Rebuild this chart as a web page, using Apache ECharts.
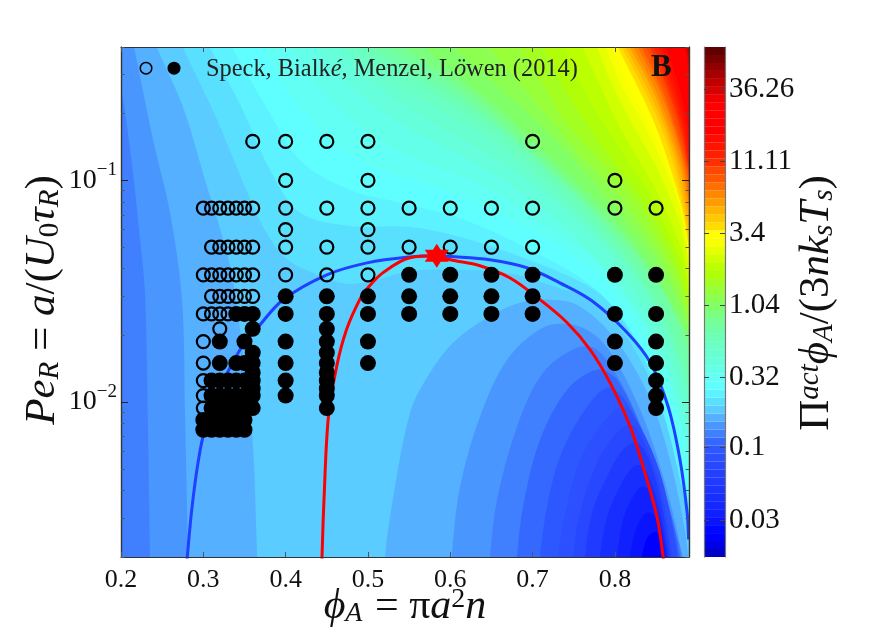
<!DOCTYPE html>
<html>
<head>
<meta charset="utf-8">
<script src="https://cdn.jsdelivr.net/npm/echarts@6/dist/echarts.min.js"></script>
<style>
  html, body { margin: 0; background: #fff; }
  #chart { width: 872px; height: 634px; }
</style>
</head>
<body>
<div id="chart"></div>
<script>
// axis ticks
const phiTicks = [0.2, 0.3, 0.4, 0.5, 0.6, 0.7, 0.8]
const peMajorTicks = [0.01, 0.1]
const peMinorTicks = [0.002, 0.003, 0.004, 0.005, 0.006, 0.007, 0.008, 0.009,
  0.02, 0.03, 0.04, 0.05, 0.06, 0.07, 0.08, 0.09, 0.2, 0.3, 0.4]
const barTicks = [0.03, 0.1, 0.32, 1.04, 3.4, 11.11, 36.26]

// colour levels of the bar, bottom to top
const barColors = ['#0000c8', '#0000e6', '#0000ff', '#0008ff', '#0a14ff', '#1020ff', '#1428ff', '#182eff',
  '#1c34ff', '#203aff', '#2440ff', '#2848ff', '#2c50ff', '#2e58ff', '#3568ff', '#4080ff',
  '#4a96ff', '#55b0ff', '#5accff', '#5ae0ff', '#5cf2ff', '#60ffff', '#62fff4', '#64ffe8',
  '#66ffdc', '#68ffd0', '#6affc4', '#6cffb8', '#70ffa8', '#74ff98', '#7aff80', '#80ff66',
  '#8cff50', '#98ff38', '#a4ff20', '#b0ff08', '#bcff00', '#d0ff00', '#e8ff00', '#f8ff00',
  '#ffff00', '#ffdc00', '#ffc800', '#ffb400', '#ff9c00', '#ff8800', '#ff7000', '#ff5800',
  '#ff4800', '#ff3000', '#ff2000', '#ff1400', '#ff0c00', '#ff0000', '#ff0000', '#ff0000',
  '#ff0000', '#f00000', '#d80000', '#c00000', '#a80000', '#900000', '#780000', '#600000']

// contours, as [phi, log10(Pe)]
// lower levels on the left side
const leftLevels = [17, 16, 15]
const leftContours = [
  [[0.235, -0.3], [0.2437, -0.4], [0.2753, -0.669], [0.3057, -1.043], [0.3179, -1.187], [0.3276, -1.313], [0.3349, -1.426], [0.3446, -1.673], [0.3592, -2.137], [0.3653, -2.696], [0.366, -2.85]],
  [[0.208, -0.3], [0.2158, -0.4], [0.2389, -0.818], [0.2596, -1.146], [0.2741, -1.538], [0.2778, -2.065], [0.2814, -2.696], [0.282, -2.85]],
  [[0.19, -0.5], [0.199, -0.561], [0.2146, -0.966], [0.2231, -1.268], [0.2292, -1.507], [0.2328, -2.137], [0.2352, -2.696], [0.236, -2.85]]
]
// domes of low values at the bottom right
const domeLevels = [17, 16, 15, 14, 13, 12, 11, 9, 7, 5, 4, 2]
const domeContours = [
  [[0.519, -2.85], [0.5208, -2.696], [0.5269, -2.516], [0.5512, -2.047], [0.5755, -1.867], [0.6034, -1.732], [0.6447, -1.619], [0.6848, -1.552], [0.7212, -1.538], [0.754, -1.561], [0.7941, -1.687], [0.8269, -1.867], [0.8512, -2.065], [0.8707, -2.318], [0.8853, -2.588], [0.8889, -2.696], [0.892, -2.85]],
  [[0.6, -2.85], [0.6018, -2.696], [0.6119, -2.381], [0.6362, -2.065], [0.669, -1.809], [0.7127, -1.664], [0.7492, -1.651], [0.7783, -1.705], [0.8026, -1.822], [0.8342, -2.065], [0.8585, -2.336], [0.8792, -2.651], [0.882, -2.85]],
  [[0.646, -2.85], [0.6483, -2.696], [0.6568, -2.44], [0.6811, -2.11], [0.7127, -1.867], [0.754, -1.755], [0.7783, -1.764], [0.8099, -1.93], [0.8427, -2.214], [0.867, -2.498], [0.8816, -2.696], [0.885, -2.85]],
  [[0.679, -2.85], [0.6811, -2.696], [0.6884, -2.471], [0.7091, -2.169], [0.7419, -1.944], [0.7783, -1.854], [0.8026, -1.899], [0.8342, -2.137], [0.8634, -2.439], [0.8792, -2.696], [0.882, -2.85]],
  [[0.707, -2.85], [0.7091, -2.696], [0.7176, -2.471], [0.7334, -2.246], [0.7613, -2.047], [0.7905, -1.935], [0.8148, -2.002], [0.8427, -2.246], [0.867, -2.516], [0.8767, -2.696], [0.879, -2.85]],
  [[0.729, -2.85], [0.731, -2.696], [0.7395, -2.498], [0.7577, -2.26], [0.782, -2.11], [0.8099, -2.02], [0.8306, -2.11], [0.8549, -2.318], [0.8707, -2.574], [0.8755, -2.696], [0.878, -2.85]],
  [[0.747, -2.85], [0.7492, -2.696], [0.7577, -2.498], [0.7783, -2.273], [0.7978, -2.156], [0.8185, -2.101], [0.8342, -2.169], [0.8549, -2.381], [0.8695, -2.696], [0.872, -2.85]],
  [[0.762, -2.85], [0.7638, -2.696], [0.7723, -2.498], [0.7905, -2.336], [0.8099, -2.214], [0.8269, -2.182], [0.8427, -2.273], [0.8573, -2.471], [0.867, -2.696], [0.869, -2.85]],
  [[0.78, -2.85], [0.782, -2.696], [0.7905, -2.516], [0.8063, -2.381], [0.8221, -2.291], [0.8342, -2.291], [0.8512, -2.44], [0.8646, -2.696], [0.867, -2.85]],
  [[0.8, -2.85], [0.8026, -2.696], [0.8099, -2.53], [0.8221, -2.426], [0.8342, -2.381], [0.8464, -2.426], [0.8634, -2.696], [0.866, -2.85]],
  [[0.816, -2.85], [0.8185, -2.696], [0.8269, -2.56], [0.8391, -2.498], [0.8512, -2.53], [0.8609, -2.696], [0.863, -2.85]],
  [[0.831, -2.85], [0.833, -2.696], [0.8403, -2.606], [0.8512, -2.588], [0.8585, -2.696], [0.861, -2.85]]
]
// higher levels towards the top right
const upperLevels = [19, 20, 21, 22, 23, 24, 25, 26, 27, 28, 29, 30, 31, 32, 33, 34, 35, 36, 37, 38, 39, 40,
  41, 42, 43, 44, 45, 46, 47, 48, 49, 50, 51, 52, 53, 57, 58, 59, 60]
const upperContours = [
  [[0.265, -0.3], [0.2753, -0.4], [0.3142, -0.705], [0.3446, -0.975], [0.3713, -1.2], [0.3993, -1.349], [0.4333, -1.417], [0.4722, -1.465], [0.5025, -1.455], [0.5512, -1.41], [0.6, -1.403], [0.6727, -1.42], [0.7334, -1.488], [0.7699, -1.538], [0.8145, -1.71], [0.8452, -1.921], [0.8672, -2.146], [0.8819, -2.349], [0.8914, -2.574], [0.9, -2.8]],
  [[0.295, -0.3], [0.308, -0.4], [0.345, -0.66], [0.381, -0.953], [0.4175, -1.146], [0.478, -1.205], [0.551, -1.209], [0.612, -1.255], [0.673, -1.327], [0.7455, -1.435], [0.79, -1.538], [0.8306, -1.764], [0.861, -2.079], [0.879, -2.349], [0.891, -2.552], [0.9, -2.8]],
  [[0.32, -0.3], [0.335, -0.4], [0.375, -0.66], [0.4175, -0.908], [0.478, -1.043], [0.551, -1.11], [0.624, -1.187], [0.697, -1.313], [0.77, -1.471], [0.8185, -1.673], [0.855, -1.966], [0.8767, -2.236], [0.891, -2.484], [0.9, -2.7]],
  [[0.355, -0.3], [0.371, -0.4], [0.411, -0.637], [0.46, -0.84], [0.515, -0.953], [0.5755, -1.02], [0.648, -1.133], [0.709, -1.246], [0.776, -1.412], [0.8245, -1.651], [0.857, -1.921], [0.879, -2.169], [0.891, -2.394], [0.9, -2.6]],
  [[0.39, -0.3], [0.405, -0.4], [0.448, -0.615], [0.5025, -0.795], [0.563, -0.908], [0.636, -1.02], [0.709, -1.187], [0.782, -1.38], [0.8306, -1.628], [0.8646, -1.899], [0.883, -2.124], [0.8926, -2.327], [0.9, -2.5]],
  [[0.42, -0.3], [0.436, -0.4], [0.478, -0.57], [0.533, -0.727], [0.6, -0.863], [0.673, -1.02], [0.7455, -1.232], [0.806, -1.471], [0.849, -1.718], [0.873, -1.943], [0.8926, -2.2], [0.9, -2.35]],
  [[0.445, -0.3], [0.46, -0.4], [0.509, -0.57], [0.563, -0.705], [0.636, -0.863], [0.709, -1.043], [0.782, -1.29], [0.8306, -1.538], [0.8646, -1.786], [0.8926, -2.124], [0.9, -2.3]],
  [[0.458, -0.3], [0.472, -0.4], [0.533, -0.57], [0.5876, -0.682], [0.66, -0.849], [0.733, -1.088], [0.806, -1.349], [0.849, -1.583], [0.879, -1.854], [0.8926, -2.056], [0.9, -2.2]],
  [[0.475, -0.3], [0.488, -0.4], [0.551, -0.547], [0.612, -0.682], [0.673, -0.84], [0.7455, -1.088], [0.806, -1.336], [0.855, -1.606], [0.8926, -1.989], [0.9, -2.1]],
  [[0.49, -0.3], [0.505, -0.4], [0.569, -0.547], [0.63, -0.682], [0.691, -0.854], [0.764, -1.11], [0.821, -1.367], [0.8646, -1.628], [0.8926, -1.921], [0.9, -2.05]],
  [[0.51, -0.3], [0.524, -0.4], [0.5876, -0.547], [0.645, -0.705], [0.679, -0.818], [0.752, -1.065], [0.812, -1.29], [0.8585, -1.516], [0.8926, -1.809], [0.9, -1.95]],
  [[0.53, -0.3], [0.544, -0.4], [0.606, -0.557], [0.657, -0.705], [0.691, -0.827], [0.755, -1.043], [0.809, -1.246], [0.855, -1.471], [0.8926, -1.764], [0.9, -1.9]],
  [[0.553, -0.3], [0.569, -0.4], [0.624, -0.57], [0.673, -0.718], [0.699, -0.818], [0.758, -1.02], [0.806, -1.2], [0.849, -1.426], [0.879, -1.628], [0.8926, -1.727], [0.9, -1.82]],
  [[0.592, -0.3], [0.606, -0.4], [0.66, -0.583], [0.703, -0.727], [0.7395, -0.863], [0.782, -1.043], [0.8245, -1.232], [0.861, -1.426], [0.8926, -1.696], [0.9, -1.78]],
  [[0.632, -0.3], [0.648, -0.4], [0.691, -0.592], [0.724, -0.736], [0.758, -0.885], [0.799, -1.043], [0.8367, -1.232], [0.869, -1.426], [0.8926, -1.664], [0.9, -1.74]],
  [[0.67, -0.3], [0.685, -0.4], [0.715, -0.583], [0.743, -0.75], [0.776, -0.885], [0.812, -1.029], [0.845, -1.214], [0.8755, -1.426], [0.8926, -1.637], [0.9, -1.72]],
  [[0.7, -0.3], [0.713, -0.4], [0.7395, -0.592], [0.767, -0.75], [0.7965, -0.908], [0.826, -1.043], [0.855, -1.214], [0.879, -1.403], [0.8926, -1.61], [0.9, -1.7]],
  [[0.727, -0.3], [0.7395, -0.4], [0.761, -0.583], [0.788, -0.75], [0.816, -0.917], [0.843, -1.065], [0.8646, -1.232], [0.883, -1.394], [0.8926, -1.592], [0.9, -1.68]],
  [[0.75, -0.3], [0.761, -0.4], [0.782, -0.57], [0.806, -0.76], [0.833, -0.93], [0.855, -1.079], [0.873, -1.232], [0.886, -1.38], [0.8926, -1.574], [0.9, -1.66]],
  [[0.767, -0.3], [0.778, -0.4], [0.798, -0.58], [0.823, -0.76], [0.849, -0.93], [0.867, -1.079], [0.8816, -1.232], [0.89, -1.403], [0.894, -1.561], [0.9, -1.64]],
  [[0.778, -0.3], [0.789, -0.4], [0.809, -0.58], [0.837, -0.76], [0.8585, -0.93], [0.8755, -1.079], [0.886, -1.246], [0.894, -1.538], [0.9, -1.62]],
  [[0.786, -0.3], [0.7965, -0.4], [0.8184, -0.58], [0.843, -0.76], [0.8646, -0.93], [0.879, -1.079], [0.887, -1.246], [0.892, -1.5], [0.9, -1.58]],
  [[0.794, -0.3], [0.804, -0.4], [0.828, -0.58], [0.85, -0.76], [0.867, -0.94], [0.881, -1.12], [0.8895, -1.3], [0.894, -1.48], [0.9, -1.55]],
  [[0.798, -0.3], [0.809, -0.4], [0.834, -0.58], [0.856, -0.76], [0.872, -0.94], [0.883, -1.12], [0.891, -1.3], [0.895, -1.39], [0.9, -1.5]],
  [[0.803, -0.3], [0.8136, -0.4], [0.839, -0.58], [0.86, -0.76], [0.8755, -0.94], [0.885, -1.12], [0.894, -1.31], [0.9, -1.45]],
  [[0.807, -0.3], [0.8184, -0.4], [0.844, -0.58], [0.8634, -0.76], [0.879, -0.94], [0.8877, -1.12], [0.894, -1.27], [0.9, -1.4]],
  [[0.812, -0.3], [0.823, -0.4], [0.8476, -0.58], [0.867, -0.76], [0.8816, -0.94], [0.89, -1.12], [0.895, -1.23], [0.9, -1.35]],
  [[0.816, -0.3], [0.828, -0.4], [0.8525, -0.58], [0.8707, -0.76], [0.884, -0.94], [0.891, -1.12], [0.895, -1.19], [0.9, -1.3]],
  [[0.82, -0.3], [0.833, -0.4], [0.856, -0.58], [0.873, -0.76], [0.886, -0.94], [0.894, -1.11], [0.9, -1.25]],
  [[0.825, -0.3], [0.838, -0.4], [0.86, -0.58], [0.8755, -0.76], [0.8877, -0.94], [0.894, -1.07], [0.9, -1.2]],
  [[0.83, -0.3], [0.8427, -0.4], [0.8634, -0.58], [0.879, -0.76], [0.889, -0.94], [0.894, -1.04], [0.9, -1.15]],
  [[0.835, -0.3], [0.8476, -0.4], [0.867, -0.58], [0.8816, -0.76], [0.89, -0.94], [0.894, -1.01], [0.9, -1.1]],
  [[0.84, -0.3], [0.8525, -0.4], [0.8707, -0.58], [0.884, -0.76], [0.891, -0.94], [0.895, -1.0], [0.9, -1.08]],
  [[0.845, -0.3], [0.857, -0.4], [0.874, -0.58], [0.886, -0.76], [0.894, -0.95], [0.9, -1.05]],
  [[0.85, -0.3], [0.862, -0.4], [0.878, -0.58], [0.889, -0.76], [0.894, -0.92], [0.9, -1.02]],
  [[0.87, -0.3], [0.884, -0.4], [0.891, -0.54], [0.894, -0.63], [0.9, -0.75]],
  [[0.875, -0.3], [0.886, -0.4], [0.891, -0.49], [0.894, -0.56], [0.9, -0.65]],
  [[0.88, -0.3], [0.8877, -0.4], [0.894, -0.5], [0.9, -0.6]],
  [[0.882, -0.3], [0.889, -0.4], [0.894, -0.46], [0.9, -0.55]]
]

// the two curves, [phi, log10(Pe)]
const blueCurve = [[0.2795, -2.75], [0.2806, -2.696], [0.286, -2.484], [0.2936, -2.273], [0.302, -2.125], [0.33, -1.863], [0.3446, -1.764], [0.369, -1.651], [0.397, -1.538], [0.45, -1.426], [0.499, -1.372], [0.551, -1.345], [0.5836, -1.34], [0.6, -1.343], [0.648, -1.358], [0.693, -1.394], [0.733, -1.462], [0.772, -1.543], [0.815, -1.687], [0.843, -1.822], [0.8646, -2.02], [0.879, -2.259], [0.8877, -2.498], [0.8895, -2.62]]
const redCurve = [[0.4438, -2.75], [0.4442, -2.696], [0.4466, -2.44], [0.452, -2.064], [0.462, -1.839], [0.474, -1.673], [0.49, -1.538], [0.5, -1.484], [0.518, -1.417], [0.551, -1.349], [0.5836, -1.34], [0.6, -1.358], [0.636, -1.385], [0.6727, -1.44], [0.709, -1.538], [0.742, -1.642], [0.77, -1.764], [0.794, -1.912], [0.8185, -2.11], [0.8342, -2.291], [0.851, -2.516], [0.8585, -2.696], [0.86, -2.75]]
const criticalPoint = [[0.5836, 0.0457]]

// simulation points, [Pe, phi values]
const openRows = [
  [0.15, [0.36, 0.40, 0.45, 0.50, 0.70]],
  [0.1, [0.40, 0.50, 0.80]],
  [0.075, [0.30, 0.31, 0.32, 0.33, 0.34, 0.35, 0.36, 0.40, 0.45, 0.50, 0.55, 0.60, 0.65, 0.70, 0.80, 0.85]],
  [0.06, [0.40, 0.50]],
  [0.05, [0.31, 0.32, 0.33, 0.34, 0.35, 0.36, 0.40, 0.45, 0.50, 0.55, 0.60, 0.65, 0.70]],
  [0.0375, [0.30, 0.31, 0.32, 0.33, 0.34, 0.35, 0.36, 0.40, 0.45, 0.50]],
  [0.03, [0.31, 0.32, 0.33, 0.34, 0.35, 0.36]],
  [0.025, [0.30, 0.31, 0.32, 0.33]],
  [0.0214, [0.32]],
  [0.01875, [0.30]],
  [0.015, [0.30]],
  [0.0125, [0.30]],
  [0.0107, [0.30]],
  [0.0094, [0.30]]
]
const filledRows = [
  [0.0375, [0.55, 0.60, 0.65, 0.70, 0.80, 0.85]],
  [0.03, [0.40, 0.45, 0.50, 0.55, 0.60, 0.65, 0.70]],
  [0.025, [0.34, 0.35, 0.36, 0.40, 0.45, 0.50, 0.55, 0.60, 0.65, 0.70, 0.80, 0.85]],
  [0.0214, [0.36, 0.45]],
  [0.01875, [0.32, 0.35, 0.40, 0.45, 0.50, 0.80, 0.85]],
  [0.0167, [0.36, 0.45]],
  [0.015, [0.32, 0.34, 0.35, 0.36, 0.40, 0.45, 0.50, 0.80, 0.85]],
  [0.0136, [0.36, 0.45]],
  [0.0125, [0.31, 0.32, 0.33, 0.34, 0.35, 0.36, 0.40, 0.45, 0.85]],
  [0.0115, [0.36, 0.45]],
  [0.0107, [0.31, 0.32, 0.33, 0.34, 0.35, 0.36, 0.40, 0.45, 0.85]],
  [0.0094, [0.31, 0.32, 0.33, 0.34, 0.35, 0.36, 0.45, 0.85]],
  [0.0083, [0.30, 0.31, 0.32, 0.33, 0.34, 0.35]],
  [0.0075, [0.30, 0.31, 0.32, 0.33, 0.34, 0.35]]
]
const keyOpen = [[0.2304, 0.321]]
const keyFilled = [[0.2644, 0.321]]

const serif = '"Liberation Serif", "DejaVu Serif", serif'
const chart = echarts.init(document.getElementById('chart'))

function fromLog(pts) {
  return pts.map(p => [p[0], Math.pow(10, p[1])])
}
function rowsToPoints(rows) {
  let out = []
  rows.forEach(r => r[1].forEach(phi => out.push([phi, r[0]])))
  return out
}

// paint order: left levels, domes, then the upper family; each is closed outside the plot
let bands = []
leftContours.forEach((c, i) => {
  let last = c[c.length - 1]
  bands.push({ level: leftLevels[i], pts: c.concat([[0.1, last[1]], [0.1, 0], [c[0][0], 0]]) })
})
domeContours.forEach((c, i) => bands.push({ level: domeLevels[i], pts: c }))
upperContours.forEach((c, i) => {
  let last = c[c.length - 1]
  bands.push({ level: upperLevels[i], pts: c.concat([[1, last[1]], [1, 0], [c[0][0], 0]]) })
})

function renderBand(params, api) {
  let band = bands[params.dataIndex]
  let points = fromLog(band.pts).map(p => api.coord(p))
  return {
    type: 'polygon',
    shape: { points: points, smooth: 0.33 },
    style: { fill: barColors[band.level] }
  }
}

function axisBase(extra) {
  return Object.assign({
    axisLine: { show: true, onZero: false, lineStyle: { color: '#333', width: 1.2 } },
    axisTick: { show: false },
    axisLabel: { show: false },
    splitLine: { show: false },
    z: 5
  }, extra)
}
function peAxis(position, ticks, len, color, labels) {
  return axisBase({
    type: 'log', gridIndex: 0, position: position, min: 0.002, max: 0.4,
    axisTick: { show: true, inside: true, length: len, customValues: ticks, lineStyle: { color: color, width: 1 } },
    axisLabel: labels || { show: false }
  })
}
function barAxis(position, labels) {
  return axisBase({
    type: 'log', gridIndex: 1, position: position, min: 0.0165, max: 73.2,
    axisLine: { show: true, onZero: false, lineStyle: { color: '#777', width: 1.2 } },
    axisTick: { show: true, inside: true, length: 5, customValues: barTicks, lineStyle: { color: '#444', width: 1 } },
    axisLabel: labels || { show: false }
  })
}

chart.setOption({
  animation: false,
  backgroundColor: '#fff',
  grid: [
    { left: 121, top: 47, width: 568, height: 510, show: true, backgroundColor: barColors[18], borderWidth: 0, outerBoundsMode: 'none' },
    { left: 704, top: 47, width: 21, height: 510, outerBoundsMode: 'none' }
  ],
  xAxis: [
    axisBase({
      type: 'value', gridIndex: 0, min: 0.2, max: 0.89, position: 'bottom',
      axisTick: { show: true, inside: true, length: 5, customValues: phiTicks, lineStyle: { color: '#555', width: 1 } },
      axisLabel: {
        show: true, customValues: phiTicks, margin: 10, fontFamily: serif, fontSize: 26, color: '#111',
        formatter: v => v.toFixed(1)
      }
    }),
    axisBase({
      type: 'value', gridIndex: 0, min: 0.2, max: 0.89, position: 'top',
      axisTick: { show: true, inside: true, length: 5, customValues: phiTicks, lineStyle: { color: '#555', width: 1 } }
    }),
    axisBase({ type: 'value', gridIndex: 1, min: 0, max: 1, show: false })
  ],
  yAxis: [
    peAxis('left', peMajorTicks, 7, '#222', {
      show: true, customValues: peMajorTicks, margin: 4,
      formatter: v => (v > 0.05 ? '{a|10}{b|−1}' : '{a|10}{b|−2}'),
      rich: {
        a: { fontFamily: serif, fontSize: 28, color: '#111' },
        b: { fontFamily: serif, fontSize: 19, color: '#111', verticalAlign: 'top', padding: [0, 0, 20, 0] }
      }
    }),
    peAxis('left', peMinorTicks, 3.5, '#555'),
    peAxis('right', peMajorTicks, 7, '#222'),
    peAxis('right', peMinorTicks, 3.5, '#555'),
    axisBase({
      type: 'category', gridIndex: 1, show: false, boundaryGap: true,
      data: barColors.map((c, i) => i)
    }),
    barAxis('right', {
      show: true, customValues: barTicks, margin: 4, fontFamily: serif, fontSize: 29, color: '#111',
      formatter: v => String(v)
    }),
    barAxis('left')
  ],
  series: [
    {
      type: 'custom', coordinateSystem: 'cartesian2d', xAxisIndex: 0, yAxisIndex: 0,
      data: bands.map(() => [0.5, 0.05]),
      renderItem: renderBand, clip: true, silent: true, z: 1
    },
    {
      type: 'bar', xAxisIndex: 2, yAxisIndex: 4, barWidth: '101%', silent: true, z: 1,
      data: barColors.map(c => ({ value: 1, itemStyle: { color: c } }))
    },
    {
      type: 'line', xAxisIndex: 0, yAxisIndex: 0, data: fromLog(blueCurve), smooth: 0.35,
      showSymbol: false, silent: true, z: 2, lineStyle: { color: '#2040ff', width: 3 }
    },
    {
      type: 'line', xAxisIndex: 0, yAxisIndex: 0, data: fromLog(redCurve), smooth: 0.35,
      showSymbol: false, silent: true, z: 2, lineStyle: { color: '#ff0000', width: 3 }
    },
    {
      type: 'scatter', xAxisIndex: 0, yAxisIndex: 0, data: rowsToPoints(openRows), symbolSize: 13,
      silent: true, z: 3, itemStyle: { color: 'rgba(0,0,0,0)', borderColor: '#000', borderWidth: 2.2, opacity: 1 }
    },
    {
      type: 'scatter', xAxisIndex: 0, yAxisIndex: 0, data: rowsToPoints(filledRows), symbolSize: 16,
      silent: true, z: 3, itemStyle: { color: '#000', opacity: 1 }
    },
    {
      type: 'scatter', xAxisIndex: 0, yAxisIndex: 0, data: keyOpen, symbolSize: 11.5,
      silent: true, z: 3, itemStyle: { color: 'rgba(0,0,0,0)', borderColor: '#000', borderWidth: 1.5, opacity: 1 }
    },
    {
      type: 'scatter', xAxisIndex: 0, yAxisIndex: 0, data: keyFilled, symbolSize: 13,
      silent: true, z: 3, itemStyle: { color: '#000', opacity: 1 }
    },
    {
      type: 'scatter', xAxisIndex: 0, yAxisIndex: 0, data: criticalPoint, symbolSize: 24, silent: true, z: 4,
      symbol: 'path://M50 0 L64 25 L93 25 L79 50 L93 75 L64 75 L50 100 L36 75 L7 75 L21 50 L7 25 L36 25 Z',
      itemStyle: { color: '#ff0000', opacity: 1 }
    }
  ],
  graphic: [
    {
      type: 'text', left: 206, top: 58, z: 20,
      style: {
        text: 'Speck, Bialk{i|é}, Menzel, L{i|ö}wen (2014)',
        fontFamily: serif, fontSize: 24.4, fill: '#222',
        rich: { i: { fontFamily: serif, fontSize: 24.4, fontStyle: 'italic', color: '#222' } }
      }
    },
    {
      type: 'text', left: 651, top: 52, z: 20,
      style: { text: 'B', fontFamily: serif, fontSize: 31, fontWeight: 'bold', fill: '#111' }
    },
    {
      type: 'text', x: 405, y: 607, z: 20,
      style: {
        text: '{i|ϕ}{s|A}{n| = π}{i|a}{u|2}{i|n}',
        align: 'center', verticalAlign: 'middle',
        rich: {
          i: { fontFamily: serif, fontSize: 42, fontStyle: 'italic', fill: '#111' },
          n: { fontFamily: serif, fontSize: 42, fill: '#111' },
          s: { fontFamily: serif, fontSize: 28, fontStyle: 'italic', fill: '#111', verticalAlign: 'bottom', padding: [14, 2, 0, 0] },
          u: { fontFamily: serif, fontSize: 28, fill: '#111', verticalAlign: 'top', padding: [0, 0, 14, 0] }
        }
      }
    },
    {
      type: 'text', x: 43, y: 300, rotation: Math.PI / 2, z: 20,
      style: {
        text: '{i|Pe}{s|R}{n| = }{i|a}{n|/(}{i|U}{t|0}{i|τ}{s|R}{n|)}',
        align: 'center', verticalAlign: 'middle',
        rich: {
          i: { fontFamily: serif, fontSize: 43, fontStyle: 'italic', fill: '#111' },
          n: { fontFamily: serif, fontSize: 43, fill: '#111' },
          s: { fontFamily: serif, fontSize: 29, fontStyle: 'italic', fill: '#111', verticalAlign: 'bottom', padding: [14, 0, 0, 0] },
          t: { fontFamily: serif, fontSize: 29, fill: '#111', verticalAlign: 'bottom', padding: [14, 0, 0, 0] }
        }
      }
    },
    {
      type: 'text', x: 817, y: 303, rotation: Math.PI / 2, z: 20,
      style: {
        text: '{n|Π}{u|act}{i|ϕ}{s|A}{n|/(3}{i|nk}{s|s}{i|T}{s|s}{n|)}',
        align: 'center', verticalAlign: 'middle',
        rich: {
          i: { fontFamily: serif, fontSize: 43, fontStyle: 'italic', fill: '#111' },
          n: { fontFamily: serif, fontSize: 43, fill: '#111' },
          s: { fontFamily: serif, fontSize: 29, fontStyle: 'italic', fill: '#111', verticalAlign: 'bottom', padding: [14, 0, 0, 0] },
          u: { fontFamily: serif, fontSize: 29, fontStyle: 'italic', fill: '#111', verticalAlign: 'top', padding: [0, 0, 14, 0] }
        }
      }
    }
  ]
})
</script>
</body>
</html>
